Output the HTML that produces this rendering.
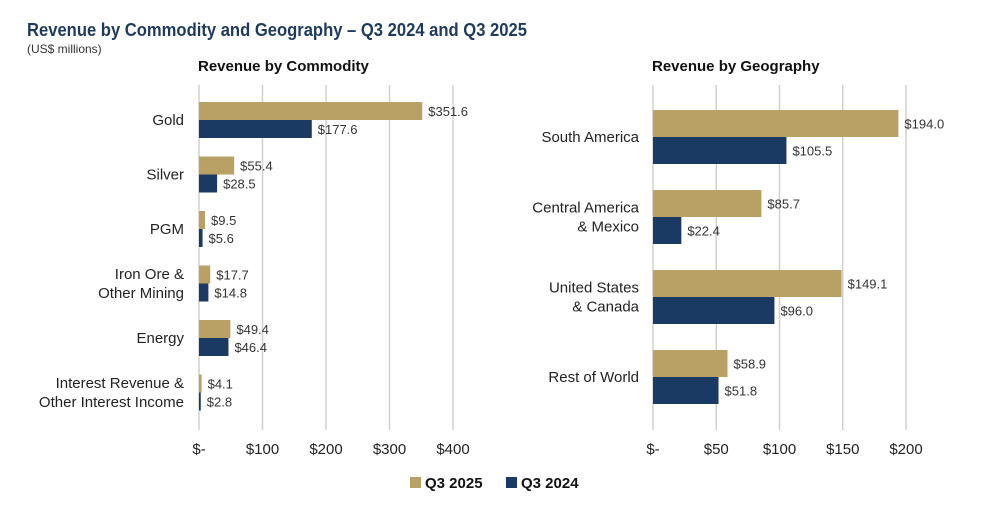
<!DOCTYPE html>
<html><head><meta charset="utf-8"><style>
body{margin:0;background:#fff;font-family:"Liberation Sans",sans-serif;}
#root{position:relative;width:991px;height:529px;overflow:hidden;}
svg text{font-family:"Liberation Sans",sans-serif;}
</style></head><body><div id="root">
<svg id="s" width="991" height="529">
<text x="27" y="36" font-size="18" font-weight="bold" fill="#1f3a5f" textLength="500" lengthAdjust="spacingAndGlyphs">Revenue by Commodity and Geography – Q3 2024 and Q3 2025</text>
<text x="27" y="53" font-size="12" fill="#333">(US$ millions)</text>
<text x="198" y="71" font-size="15" font-weight="bold" fill="#111">Revenue by Commodity</text>
<text x="652" y="71" font-size="15" font-weight="bold" fill="#111">Revenue by Geography</text>
<g id="L"></g>
<g id="R"></g>
<rect x="410" y="477" width="11" height="11" fill="#b9a064"/>
<text x="425" y="488" font-size="15" font-weight="bold" fill="#111">Q3 2025</text>
<rect x="506" y="477" width="11" height="11" fill="#1a3a63"/>
<text x="521" y="488" font-size="15" font-weight="bold" fill="#111">Q3 2024</text>
</svg>
<script>
const commodityCats=[["Gold"],["Silver"],["PGM"],["Iron Ore &","Other Mining"],["Energy"],["Interest Revenue &","Other Interest Income"]];
const commodity2025=[351.6,55.4,9.5,17.7,49.4,4.1];
const commodity2024=[177.6,28.5,5.6,14.8,46.4,2.8];
const commodityTicks=[0,100,200,300,400];
const geoCats=[["South America"],["Central America","& Mexico"],["United States","& Canada"],["Rest of World"]];
const geo2025=[194.0,85.7,149.1,58.9];
const geo2024=[105.5,22.4,96.0,51.8];
const geoTicks=[0,50,100,150,200];
const NS="http://www.w3.org/2000/svg";
function mk(g,t,a){const e=document.createElementNS(NS,t);for(const k in a)e.setAttribute(k,a[k]);g.appendChild(e);return e;}
function draw(g,cfg,cats,v1,v2,ticks){
 const x=v=>cfg.x0+v*cfg.scale;
 ticks.forEach(t=>{
  const l=mk(g,"line",{x1:x(t),x2:x(t),y1:cfg.top,y2:cfg.bot,stroke:"#d0d0d0","stroke-width":1.5});
  
  
  const tx=mk(g,"text",{x:x(t),y:454,"font-size":15,fill:"#222","text-anchor":"middle"});
  tx.textContent=t===0?"$-":"$"+t;
  
  
 });
 cats.forEach((c,i)=>{
  const cy=cfg.c0+i*cfg.step;
  const b1=mk(g,"rect",{x:x(0),y:cy-cfg.bh,width:v1[i]*cfg.scale,height:cfg.bh,fill:"#b9a064"});
  
  
  const b2=mk(g,"rect",{x:x(0),y:cy,width:v2[i]*cfg.scale,height:cfg.bh,fill:"#1a3a63"});
  
  
  const l1=mk(g,"text",{x:x(v1[i])+6,y:cy-cfg.bh/2+5,"font-size":13,fill:"#333"});
  l1.textContent="$"+v1[i].toFixed(1);
  
  
  const l2=mk(g,"text",{x:x(v2[i])+6,y:cy+cfg.bh/2+5,"font-size":13,fill:"#333"});
  l2.textContent="$"+v2[i].toFixed(1);
  
  
  c.forEach((s,j)=>{
   const ct=mk(g,"text",{x:cfg.lx,y:cy+5+(j-(c.length-1)/2)*19,"font-size":15,fill:"#222","text-anchor":"end"});
   ct.textContent=s;
   
   
  });
 });
}
draw(document.getElementById("L"),{x0:199,scale:0.635,top:85,bot:430,c0:120,step:54.5,bh:18,lx:184},commodityCats,commodity2025,commodity2024,commodityTicks);
draw(document.getElementById("R"),{x0:653,scale:1.265,top:85,bot:430,c0:137,step:80,bh:27,lx:639},geoCats,geo2025,geo2024,geoTicks);
</script></div></body></html>
